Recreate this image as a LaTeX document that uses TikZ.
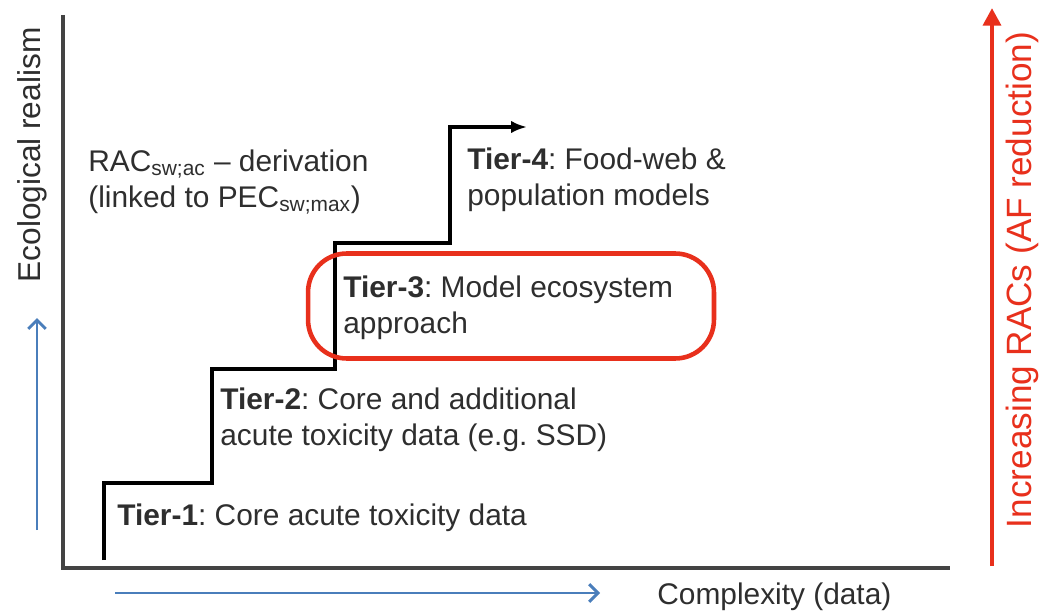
\documentclass[tikz,border=0pt]{standalone}
\usepackage{fontspec}
\setmainfont{Liberation Sans}
\definecolor{tiergray}{HTML}{2E2E2E}
\definecolor{tierblue}{HTML}{4A7EBB}
\definecolor{tierred}{HTML}{E8301C}
\usetikzlibrary{arrows.meta}
\frenchspacing

\begin{document}
\begin{tikzpicture}[
    x=0.02cm, y=-0.02cm,
    lbl/.style={inner sep=0pt, anchor=west, align=left, text=tiergray,
                font=\fontsize{17pt}{20.5pt}\selectfont},
    axis/.style={line width=2.2pt, tiergray!90},
    stair/.style={line width=1.8pt, black, -{Latex[length=9pt,width=7pt]}},
    blarr/.style={line width=1.7pt, tierblue, -{Straight Barb[length=5pt,width=10pt]}},
    redarr/.style={line width=2.8pt, tierred, -{Triangle[length=10pt,width=10pt]}},
    hilite/.style={draw=tierred, line width=2.6pt, rounded corners=22pt,
                   minimum width=8.12cm, minimum height=2.1cm},
  ]
  \useasboundingbox (0,0) rectangle (1051,611);

  \coordinate (ytop) at (63,15);
  \coordinate (xend) at (950,568);
  \coordinate (s0) at (104,560);
  \coordinate (s2) at (212,483);
  \coordinate (s4) at (335,369);
  \coordinate (s6) at (450,243);
  \coordinate (s8) at (527,127);
  \coordinate (bvlow) at (37,530);
  \coordinate (bvtop) at (37,318);
  \coordinate (bhleft) at (115,593);
  \coordinate (bhright) at (600,593);
  \coordinate (rlow) at (992,566);
  \coordinate (rtop) at (992,8);

  \draw[axis] (ytop) |- (xend);
  \draw[stair] (s0) |- (s2) |- (s4) |- (s6) |- (s8);
  \draw[blarr] (bvlow) -- (bvtop);
  \draw[blarr] (bhleft) -- (bhright);
  \draw[redarr] (rlow) -- (rtop);

  \node[hilite] (t3box) at (511,306) {};

  \node[lbl] (rac)   at (88,182)  {RAC\textsubscript{sw;ac} -- derivation\\(linked to PEC\textsubscript{sw;max})};
  \node[lbl] (tier4) at (467,180) {\textbf{Tier-4}: Food-web \&\\population models};
  \node[lbl] (tier3) at (343,308) {\textbf{Tier-3}: Model ecosystem\\approach};
  \node[lbl] (tier2) at (220,420) {\textbf{Tier-2}: Core and additional\\acute toxicity data (e.g. SSD)};
  \node[lbl] (tier1) at (117,518) {\textbf{Tier-1}: Core acute toxicity data};
  \node[lbl] (xlab)  at (657,597) {Complexity (data)};
  \node[lbl, anchor=center, rotate=90,
        font=\fontsize{18pt}{21pt}\selectfont] (ylab) at (32,155) {Ecological realism};
  \node[lbl, anchor=center, rotate=90, text=tierred,
        font=\fontsize{20pt}{24pt}\selectfont] (rlab) at (1022,280) {Increasing RACs (AF reduction)};
\end{tikzpicture}
\end{document}
